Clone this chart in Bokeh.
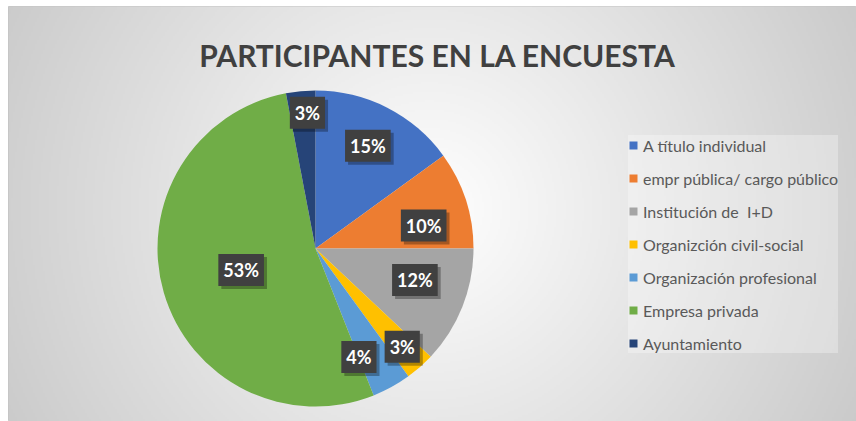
import numpy as np
from bokeh.plotting import figure
from bokeh.models import Range1d, Legend, LegendItem, Label, ColumnDataSource
from bokeh.core.properties import value
from bokeh.embed import file_html
from bokeh.resources import INLINE

# ---- data ----
title_text = "PARTICIPANTES EN LA ENCUESTA"
categories = ["A título individual", "empr pública/ cargo público", "Institución de  I+D",
              "Organizción civil-social", "Organización profesional", "Empresa privada",
              "Ayuntamiento"]
values = [15, 10, 12, 3, 4, 53, 3]
colors = ["#4472C4", "#ED7D31", "#A5A5A5", "#FFC000", "#5B9BD5", "#70AD47", "#264478"]

# data-label placement (style): fraction of radius and angular shift in degrees
label_radius = [0.73, 0.70, 0.66, 0.83, 0.74, 0.49, 0.86]
label_shift = [0, -6, 4, 0, -7, 0, -2]

# ---- layout ----
FW, FH = 856, 421
LB, TB = 8, 6
W, H = FW - LB, FH - TB
cx, cy, R = 307, 173, 158

p = figure(width=FW, height=FH, x_range=Range1d(0, W), y_range=Range1d(0, H),
           output_backend="svg", toolbar_location=None,
           min_border_left=LB, min_border_top=TB, min_border_right=0, min_border_bottom=0,
           x_axis_location=None, y_axis_location=None)
p.grid.visible = False
p.outline_line_color = "#c4c4c4"
p.border_fill_color = "white"
p.background_fill_color = "#dedede"

# radial gradient background
s = 2
gh, gw = H // s + 1, W // s + 1
yy, xx = np.mgrid[0:gh, 0:gw]
d = np.hypot(xx * s - 420, yy * s - 211)
c = np.clip(255 - 0.11 * d, 190, 255).astype(np.uint8)
rgba = np.empty((gh, gw, 4), dtype=np.uint8)
rgba[..., 0] = c
rgba[..., 1] = c
rgba[..., 2] = c
rgba[..., 3] = 255
img = rgba.view(dtype=np.uint32).reshape((gh, gw))
p.image_rgba(image=[img], x=0, y=0, dw=gw * s, dh=gh * s)

# wedges
fr = np.array(values, dtype=float) / sum(values)
cum = np.concatenate([[0.0], np.cumsum(fr)])
start = np.pi / 2 - cum[1:] * 2 * np.pi
end = np.pi / 2 - cum[:-1] * 2 * np.pi
mid = (start + end) / 2 + np.radians(label_shift)
lx = cx + np.array(label_radius) * R * np.cos(mid)
ly = cy + np.array(label_radius) * R * np.sin(mid)
pct = [f"{round(v * 100)}%" for v in fr]

src = ColumnDataSource(dict(cat=categories, start=start, end=end, color=colors,
                            lx=lx, ly=ly, pct=pct))
r = p.wedge(x=cx, y=cy, radius=R, start_angle="start", end_angle="end",
            fill_color="color", line_color=None, source=src)

# data labels: shadow + dark box with white text
p.text(x="lx", y="ly", text="pct", source=src, text_alpha=0,
       text_font=value("Lato"), text_font_style="bold", text_font_size="18px",
       text_align="center", text_baseline="middle", x_offset=3, y_offset=3,
       background_fill_color="black", background_fill_alpha=0.3, padding=5)
p.text(x="lx", y="ly", text="pct", source=src, text_color="white",
       text_font=value("Lato"), text_font_style="bold", text_font_size="18px",
       text_align="center", text_baseline="middle",
       background_fill_color="#404040", padding=5)

# title
p.add_layout(Label(x=429, y=H - 48, text=title_text, text_align="center",
                   text_baseline="middle", text_font="Lato", text_font_style="bold",
                   text_font_size="30px", text_color="#404040"))

# legend
legend = Legend(items=[LegendItem(label=cat, renderers=[r], index=i)
                       for i, cat in enumerate(categories)],
                location=(620, 68), orientation="vertical",
                label_text_font="Lato", label_text_font_size="16px",
                label_text_color="#595959", label_height=20, label_standoff=5,
                glyph_width=10, glyph_height=10, spacing=13, padding=6, margin=0,
                border_line_color=None, background_fill_color="white",
                background_fill_alpha=0.3)
p.add_layout(legend)

open("out.html", "w").write(file_html(p, INLINE))
